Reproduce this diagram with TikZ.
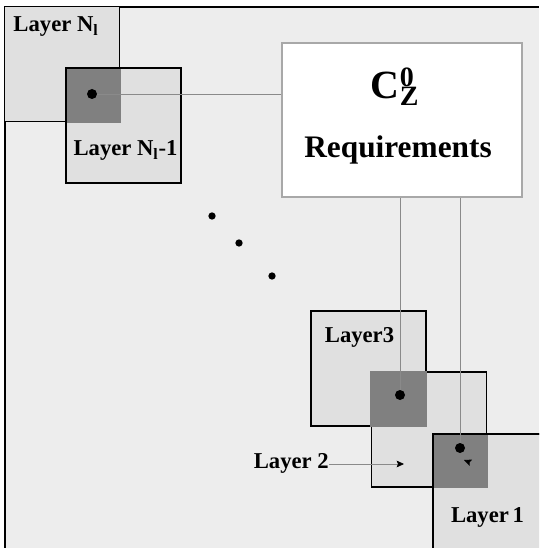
\documentclass[tikz,border=0pt]{standalone}
\usepackage{fontspec}
\setmainfont{Liberation Serif}
\usepackage{tikz}
\usetikzlibrary{arrows.meta,calc}
\definecolor{fondo}{HTML}{EDEDED}
\definecolor{capa}{HTML}{E0E0E0}
\definecolor{traslape}{HTML}{808080}
\definecolor{linea}{HTML}{8A8A8A}
\definecolor{borde}{HTML}{A8A8A8}

\begin{document}
\begin{tikzpicture}[x=0.75pt,y=-0.75pt,font=\bfseries\fontsize{17}{20}\selectfont,>={Stealth[length=5.5pt,width=5pt,inset=1pt,color=black]},
capa/.style={rectangle,draw=black,fill=capa,line width=1.1pt,minimum width=86.25pt,minimum height=86.25pt,inner sep=0pt},
marco/.style={capa,fill=none},
traslape/.style={fill=traslape,draw=traslape,line width=1.1pt},
req/.style={rectangle,draw=borde,fill=white,line width=0.8pt,minimum width=180pt,minimum height=115.5pt,inner sep=0pt},
punto/.style={circle,fill=black,inner sep=0pt,minimum size=7.5pt},
lbl/.style={inner sep=0pt,anchor=base},
conex/.style={draw=linea,line width=0.6pt},
flecha/.style={conex,->}]

\useasboundingbox (0,0) rectangle (539,548);
\clip (0,0) rectangle (539,548);
\fill[fondo] (5,7) rectangle (539,548);
\draw[line width=1.5pt] (5,548) -- (5,7) -- (539,7);

\node[capa] (lN) at (62,64) {};
\node[capa] (lN1) at (123.5,125.5) {};
\node[capa] (l3) at (368.5,368.5) {};
\node[capa] (l2) at (429,429.5) {};
\node[capa] (l1) at (490.5,491.5) {};

\path[traslape] (lN1.north west) rectangle (lN.south east);
\path[traslape] (l2.north west) rectangle (l3.south east);
\path[traslape] (l1.north west) rectangle (l2.south east);
\node[marco] at (lN1) {};
\node[marco] at (l1) {};

\node[req] (req) at (402,120) {};
\node[lbl,font=\bfseries\fontsize{30}{34}\selectfont] (cz) at (395,99) {C\rlap{\textsuperscript{0}}\textsubscript{Z}};
\node[lbl,font=\bfseries\fontsize{23.5}{27}\selectfont] (rtxt) at (398,158) {Requirements};

\node[punto] (d1) at (92,94) {};
\node[punto] (d2) at (400,395) {};
\node[punto] (d3) at (460,448) {};

\draw[conex] (d1) -- (d1 -| req.west);
\draw[conex] (d2 |- req.south) -- (d2);
\draw[conex] (d3 |- req.south) -- (d3);

\node[punto,minimum size=5.5pt] (s1) at (212,216) {};
\node[punto,minimum size=5.5pt] (s2) at (239,243) {};
\node[punto,minimum size=5.5pt] (s3) at (272,276) {};

\node[lbl] (tN) at (56,32) {Layer N\textsubscript{l}};
\node[lbl] (tN1) at (125.5,156) {Layer N\textsubscript{l}-1};
\node[lbl] (t3) at (359.5,342) {Layer3};
\node[lbl,anchor=base east] (t2) at (329,468) {Layer 2};
\node[lbl] (t1) at (487.5,522) {Layer\,1};

\coordinate (p2) at (404,464);
\coordinate (p1) at (464,460);
\draw[flecha] (t2.east |- p2) -- (p2);
\draw[flecha] ([shift={(5,2)}]p1) -- (p1);
\end{tikzpicture}
\end{document}
